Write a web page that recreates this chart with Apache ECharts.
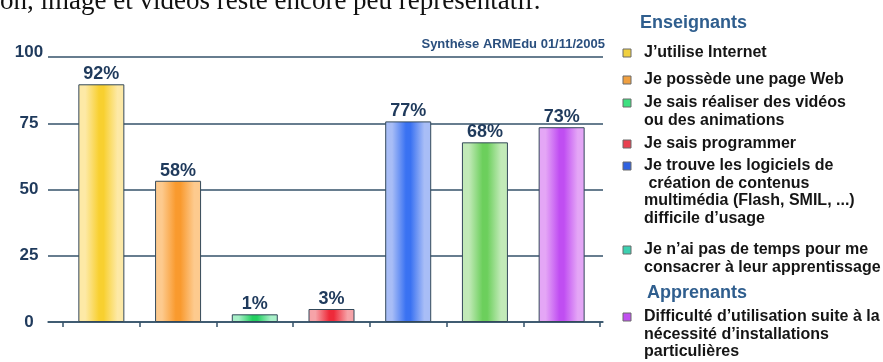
<!DOCTYPE html>
<html>
<head>
<meta charset="utf-8">
<script src="https://cdn.jsdelivr.net/npm/echarts@6/dist/echarts.min.js"></script>
<style>
  html, body { margin: 0; padding: 0; background: #fff; }
  #chart { width: 883px; height: 362px; }
</style>
</head>
<body>
<div id="chart"></div>
<script>
// bar heights as drawn, and the percentage written above each bar
const categories = ['internet', 'web', 'video', 'prog', 'logiciels', 'temps', 'install'];
const barHeights = [89.7, 53.3, 2.9, 4.9, 75.7, 67.8, 73.5];
const valueLabels = ['92%', '58%', '1%', '3%', '77%', '68%', '73%'];
const edgeColors = ['#fde9a6', '#fdca8e', '#a8f0c8', '#f6a3a8', '#a8bdf6', '#c2eab8', '#e4a6f6'];
const centerColors = ['#f8d030', '#f99a2e', '#22d060', '#ee2a3a', '#3a72f2', '#6ccf5c', '#c04ef2'];
const legendColors = ['#f0d040', '#f0a040', '#3ee080', '#e84050', '#3062e0', '#3cd0b0', '#c050f0'];
const legendLines = [
  ['J’utilise Internet'],
  ['Je possède une page Web'],
  ['Je sais réaliser des vidéos', 'ou des animations'],
  ['Je sais programmer'],
  ['Je trouve les logiciels de', ' création de contenus', 'multimédia (Flash, SMIL, ...)', 'difficile d’usage'],
  ['Je n’ai pas de temps pour me', 'consacrer à leur apprentissage'],
  ['Difficulté d’utilisation suite à la', 'nécessité d’installations', 'particulières']
];
const legendTops = [53, 80, 103, 144, 166, 250, 317];
const groupTitles = ['Enseignants', 'Apprenants'];
const groupTitleTops = [23, 293];
const groupTitleLefts = [640, 647];

const ink = '#1f3a5c';
const rule = '#34526a';

const chart = echarts.init(document.getElementById('chart'));

function barGradient(i) {
  return new echarts.graphic.LinearGradient(0, 0, 1, 0, [
    { offset: 0, color: edgeColors[i] },
    { offset: 0.15, color: edgeColors[i] },
    { offset: 0.45, color: centerColors[i] },
    { offset: 0.55, color: centerColors[i] },
    { offset: 0.85, color: edgeColors[i] },
    { offset: 1, color: edgeColors[i] }
  ]);
}

const graphics = [
  {
    type: 'text', left: 0, top: -12, silent: true,
    style: { text: 'on, image et vidéos reste encore peu représentatif.', font: '27px "Liberation Serif"', fill: '#111' }
  },
  {
    type: 'text', x: 605, y: 44, silent: true,
    style: { text: 'Synthèse ARMEdu 01/11/2005', font: 'bold 13px "Liberation Sans"', fill: '#2a4f7e', align: 'right', verticalAlign: 'middle' }
  }
];
groupTitles.forEach((t, i) => {
  graphics.push({
    type: 'text', x: groupTitleLefts[i], y: groupTitleTops[i], silent: true,
    style: { text: t, font: 'bold 18px "Liberation Sans"', fill: '#2f5e8e', verticalAlign: 'middle' }
  });
});
legendLines.forEach((lines, i) => {
  graphics.push({
    type: 'rect', silent: true,
    shape: { x: 623, y: legendTops[i] - 4, width: 8, height: 8 },
    style: { fill: legendColors[i], stroke: '#6a6a6a', lineWidth: 1 }
  });
  lines.forEach((ln, j) => {
    graphics.push({
      type: 'text', x: 644, y: legendTops[i] + j * 17.5, silent: true,
      style: { text: ln, font: 'bold 16px "Liberation Sans"', fill: '#151515', verticalAlign: 'middle' }
    });
  });
});

const options = {
  backgroundColor: '#fff',
  animation: false,
  grid: [
    { left: 63, right: 283, top: 57, bottom: 40 },
    { left: 48, right: 280, top: 57, bottom: 40 }
  ],
  xAxis: [
    {
      type: 'category', gridIndex: 0, data: categories,
      axisLine: { show: false },
      axisTick: { show: true, length: 5, lineStyle: { color: rule, width: 1.5 } },
      axisLabel: { show: false }
    },
    {
      type: 'category', gridIndex: 1, data: [''],
      axisLine: { show: true, lineStyle: { color: rule, width: 1.5 } },
      axisTick: { show: false },
      axisLabel: { show: false }
    }
  ],
  yAxis: [
    { type: 'value', gridIndex: 0, min: 0, max: 100, interval: 25, show: false },
    {
      type: 'value', gridIndex: 1, min: 0, max: 100, interval: 25,
      axisLine: { show: false },
      axisTick: { show: false },
      splitLine: { show: true, lineStyle: { color: rule, width: 1.5 } },
      axisLabel: {
        margin: 19, align: 'center',
        color: ink, fontFamily: 'Liberation Sans', fontWeight: 'bold', fontSize: 17,
        formatter: (v) => (v === 100 ? '{t|100}' : String(v)),
        rich: { t: { color: ink, fontFamily: 'Liberation Sans', fontWeight: 'bold', fontSize: 17, padding: [0, 0, 9, 0] } }
      }
    }
  ],
  series: [
    {
      type: 'bar', xAxisIndex: 0, yAxisIndex: 0, barWidth: 46, z: 3,
      data: barHeights.map((v, i) => ({
        value: v,
        itemStyle: { color: barGradient(i), borderColor: '#34495a', borderWidth: 1 }
      })),
      label: {
        show: true, position: 'top', distance: 1,
        formatter: (p) => valueLabels[p.dataIndex],
        color: ink, fontFamily: 'Liberation Sans', fontWeight: 'bold', fontSize: 18
      }
    }
  ],
  graphic: graphics
};

chart.setOption(options);
</script>
</body>
</html>
